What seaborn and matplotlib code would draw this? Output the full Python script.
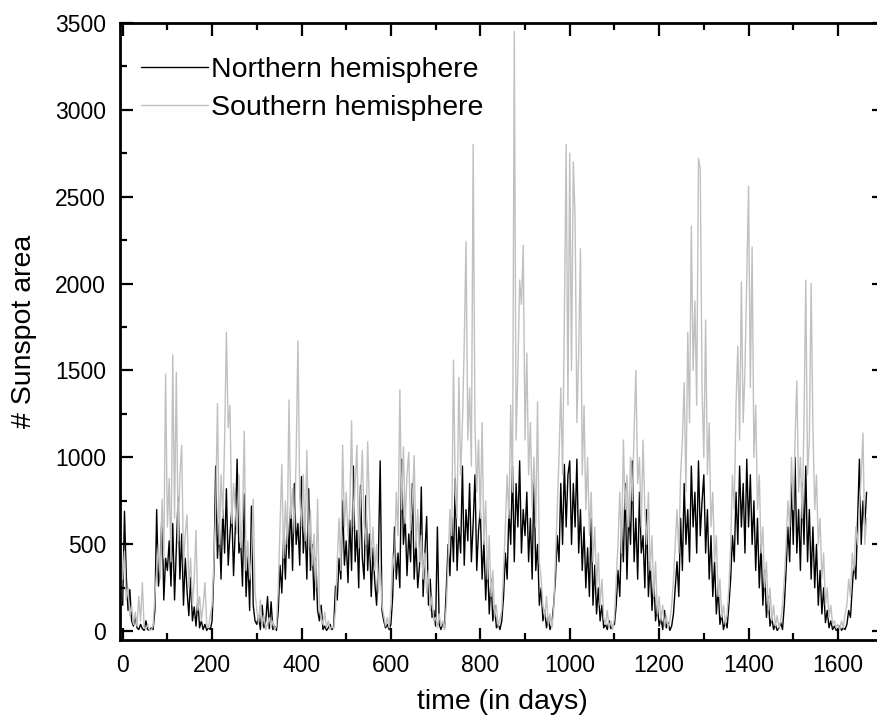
import numpy as np
import pandas as pd
import matplotlib
matplotlib.use("Agg")
import matplotlib.pyplot as plt
import seaborn as sns
from matplotlib.ticker import MultipleLocator

sns.set_style("ticks")
plt.rcParams['font.family'] = ['Liberation Sans', 'DejaVu Sans']
plt.rcParams['text.color'] = 'black'
plt.rcParams['axes.labelcolor'] = 'black'
plt.rcParams['xtick.color'] = 'black'
plt.rcParams['ytick.color'] = 'black'

DAY_STEP = 4
series_labels = ["Northern hemisphere", "Southern hemisphere"]
series_colors = ["#000000", "#C0C0C0"]

north = [
    150, 690, 320, 120, 240, 60, 30, 90, 20, 10, 40, 15, 5, 60, 10, 5, 20, 10, 120, 700, 260, 380, 690, 180, 420,
    350, 520, 260, 620, 180, 470, 770, 300, 560, 150, 420, 230, 90, 310, 60, 140, 30, 180, 20, 60, 10, 40, 5, 20, 10,
    60, 350, 950, 420, 620, 300, 700, 450, 820, 380, 560, 700, 320, 600, 990, 450, 520, 260, 790, 200, 430, 120, 720, 150, 60,
    40, 90, 10, 150, 20, 60, 200, 15, 170, 10, 30, 5, 120, 380, 220, 540, 300, 650, 420, 740, 350, 850, 500, 620, 380,
    890, 450, 620, 300, 820, 350, 500, 180, 420, 120, 60, 150, 10, 30, 5, 20, 40, 10, 25, 260, 180, 420, 300, 750, 380,
    520, 280, 640, 350, 950, 400, 580, 250, 840, 420, 300, 780, 350, 560, 200, 480, 280, 150, 420, 980, 120, 60, 20, 40, 10,
    40, 200, 600, 300, 450, 250, 990, 500, 650, 320, 560, 400, 850, 300, 520, 250, 380, 830, 200, 450, 660, 150, 300, 80, 120,
    30, 600, 40, 10, 50, 20, 250, 500, 320, 650, 400, 880, 350, 600, 450, 950, 380, 700, 520, 850, 400, 620, 900, 350, 580,
    700, 300, 520, 180, 420, 100, 300, 60, 150, 20, 40, 10, 60, 200, 450, 300, 700, 500, 950, 400, 850, 600, 980, 450, 700,
    550, 800, 400, 650, 300, 900, 350, 500, 150, 250, 60, 120, 20, 80, 10, 40, 150, 300, 550, 400, 850, 500, 960, 600, 900,
    980, 500, 850, 600, 990, 450, 700, 350, 600, 250, 480, 200, 650, 150, 380, 100, 250, 60, 150, 20, 40, 10, 60, 15, 30,
    40, 150, 350, 200, 600, 400, 850, 300, 700, 500, 980, 400, 650, 300, 800, 450, 550, 250, 700, 200, 400, 120, 300, 60, 150,
    30, 80, 10, 120, 20, 50, 5, 30, 100, 250, 400, 200, 650, 350, 850, 500, 700, 400, 950, 600, 800, 450, 980, 550, 750,
    900, 450, 700, 300, 550, 200, 400, 100, 250, 40, 100, 10, 60, 20, 150, 300, 550, 400, 800, 500, 950, 600, 850, 450, 990,
    600, 900, 500, 750, 350, 650, 250, 500, 150, 350, 80, 200, 30, 80, 10, 40, 5, 20, 50, 10, 150, 350, 600, 400, 880,
    500, 1000, 450, 700, 350, 850, 500, 950, 400, 700, 300, 600, 250, 500, 150, 350, 100, 250, 50, 120, 20, 60, 10, 30, 5,
    10, 30, 5, 20, 10, 40, 120, 80, 250, 400, 300, 650, 990, 500, 750, 600, 800,
]

south = [
    300, 460, 180, 250, 90, 150, 40, 110, 30, 200, 60, 280, 20, 10, 40, 5, 10, 30, 200, 350, 500, 300, 760, 420, 1480,
    600, 880, 400, 1590, 650, 1490, 520, 900, 1070, 380, 560, 670, 250, 420, 150, 300, 580, 120, 200, 60, 150, 280, 40, 20, 90,
    150, 400, 700, 1310, 500, 900, 650, 1100, 1720, 1170, 1300, 620, 850, 700, 560, 900, 480, 650, 1150, 350, 520, 300, 420, 760, 230,
    120, 50, 180, 30, 90, 10, 40, 80, 20, 60, 10, 30, 250, 600, 960, 420, 750, 500, 1330, 650, 820, 560, 1000, 1670, 780,
    600, 900, 520, 1040, 480, 700, 380, 560, 250, 760, 150, 80, 40, 110, 20, 60, 10, 30, 15, 120, 400, 650, 350, 1070, 600,
    800, 550, 700, 1210, 600, 850, 1070, 480, 750, 1040, 620, 500, 1090, 700, 420, 600, 350, 500, 220, 380, 150, 90, 30, 80, 20,
    150, 450, 350, 800, 550, 1390, 700, 1060, 620, 900, 1030, 580, 750, 1010, 480, 700, 400, 550, 300, 450, 220, 350, 120, 200, 60,
    80, 20, 100, 30, 60, 10, 150, 400, 700, 550, 1560, 800, 650, 1460, 900, 1200, 1650, 2240, 1100, 1400, 950, 2800, 1200, 800, 1100,
    650, 1200, 500, 750, 300, 550, 200, 350, 80, 150, 30, 70, 120, 350, 600, 900, 650, 1300, 800, 3450, 1100, 1500, 2020, 1880, 2220,
    1100, 1600, 900, 1200, 700, 1000, 600, 1320, 400, 300, 150, 80, 200, 40, 100, 20, 120, 400, 700, 1000, 1400, 900, 1800, 2800, 1300,
    2750, 1500, 2700, 2380, 1200, 1600, 2200, 900, 1300, 700, 1000, 550, 800, 400, 600, 250, 450, 150, 300, 80, 40, 120, 20, 60, 10,
    80, 300, 500, 800, 450, 1100, 700, 900, 600, 1000, 750, 1150, 1500, 850, 1000, 600, 1100, 700, 500, 800, 350, 550, 200, 400, 100,
    200, 60, 150, 30, 90, 20, 60, 150, 300, 500, 700, 450, 900, 1100, 1430, 800, 1720, 1200, 2330, 1500, 1900, 1300, 2720, 2660, 1400,
    1000, 1790, 900, 1200, 600, 800, 400, 550, 200, 300, 80, 150, 40, 100, 250, 500, 900, 700, 1300, 1640, 1100, 2010, 1200, 1500, 2040,
    2560, 1400, 2210, 1000, 1300, 700, 900, 450, 600, 250, 400, 120, 250, 60, 150, 30, 90, 20, 60, 150, 300, 500, 750, 600, 1000,
    700, 1100, 1440, 800, 1000, 650, 1200, 2020, 900, 1100, 2000, 1170, 700, 900, 500, 650, 300, 450, 150, 250, 80, 150, 40, 60, 20,
    40, 10, 60, 20, 100, 150, 300, 200, 450, 350, 600, 500, 700, 900, 1140, 500, 650,
]

days = np.arange(len(north)) * DAY_STEP

fig = plt.figure(figsize=(8.77, 7.26), dpi=100)
ax = fig.add_axes([120 / 877, 1 - 640 / 726, 764 / 877, (640 - 22.7) / 726])

for vals, lab, col in zip([north, south], series_labels, series_colors):
    sns.lineplot(x=days, y=vals, color=col, linewidth=1.0, estimator=None,
                 label=lab, ax=ax)

ax.set_xlim(-6, 1703)
ax.set_ylim(-50, 3500)
ax.xaxis.set_major_locator(MultipleLocator(200))
ax.xaxis.set_minor_locator(MultipleLocator(100))
ax.yaxis.set_major_locator(MultipleLocator(500))
ax.yaxis.set_minor_locator(MultipleLocator(250))
ax.tick_params(which="both", direction="in", top=True, right=True,
               labelsize=16.5, width=1.6, colors="black", pad=10)
ax.tick_params(which="major", length=9)
ax.tick_params(which="minor", length=5)
for sp in ax.spines.values():
    sp.set_linewidth(2.0)
    sp.set_color("black")
    sp.set_visible(True)

ax.set_xlabel("time (in days)", fontsize=20.5, labelpad=9, color="black")
ax.set_ylabel("# Sunspot area", fontsize=20.5, labelpad=13, color="black")

handles, labels = ax.get_legend_handles_labels()
leg = ax.legend(handles, labels, loc="upper left", bbox_to_anchor=(0.028, 0.945),
                frameon=False, fontsize=20.5, handlelength=2.35, handletextpad=0.1,
                labelspacing=0.42, borderaxespad=0, borderpad=0)
for h in leg.legend_handles:
    h.set_linewidth(1.0)
for t in leg.get_texts():
    t.set_color("black")

fig.savefig("out.png", dpi=100)
